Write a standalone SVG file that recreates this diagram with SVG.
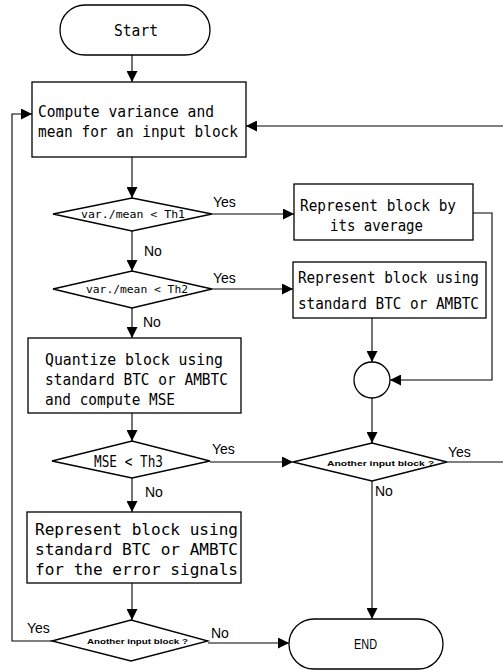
<svg xmlns="http://www.w3.org/2000/svg" width="503" height="670" viewBox="0 0 503 670">
<style>
.s{fill:#fff;stroke:#000;stroke-width:1.3}
.c{fill:none;stroke:#000;stroke-width:1.1}
.t{font-family:"DejaVu Sans Mono",monospace;font-size:16px;fill:#000}
.d{font-family:"DejaVu Sans Mono",monospace;font-size:11px;fill:#000}
.l{font-family:"Liberation Sans",Arial,sans-serif;font-size:14px;fill:#000}
.b{font-family:"Liberation Sans",Arial,sans-serif;font-size:8px;font-weight:bold;fill:#000}
</style>
<defs>
<marker id="a" markerUnits="userSpaceOnUse" markerWidth="11" markerHeight="11" refX="11" refY="5.5" orient="auto">
<path d="M0,0 L11,5.5 L0,11 z" fill="#000"/>
</marker>
</defs>
<rect width="503" height="670" fill="#fff"/>
<g id="connectors">
<line class="c" x1="132" y1="55" x2="132" y2="82" marker-end="url(#a)"/>
<line class="c" x1="132" y1="157" x2="132" y2="198" marker-end="url(#a)"/>
<line class="c" x1="212" y1="214" x2="294" y2="214" marker-end="url(#a)"/>
<line class="c" x1="132" y1="231" x2="132" y2="271" marker-end="url(#a)"/>
<line class="c" x1="212" y1="289" x2="293" y2="289" marker-end="url(#a)"/>
<line class="c" x1="132" y1="308" x2="132" y2="338" marker-end="url(#a)"/>
<line class="c" x1="132" y1="413" x2="132" y2="441" marker-end="url(#a)"/>
<line class="c" x1="210" y1="462" x2="293" y2="462" marker-end="url(#a)"/>
<line class="c" x1="132" y1="478" x2="132" y2="512" marker-end="url(#a)"/>
<line class="c" x1="132" y1="583" x2="132" y2="620" marker-end="url(#a)"/>
<polyline class="c" points="52,641 12,641 12,114 32,114" marker-end="url(#a)"/>
<line class="c" x1="208" y1="643" x2="289" y2="643" marker-end="url(#a)"/>
<line class="c" x1="372" y1="318" x2="372" y2="362" marker-end="url(#a)"/>
<polyline class="c" points="473,213 492,213 492,380 390,380" marker-end="url(#a)"/>
<line class="c" x1="372" y1="398" x2="372" y2="443" marker-end="url(#a)"/>
<line class="c" x1="372" y1="481" x2="372" y2="619" marker-end="url(#a)"/>
<line class="c" x1="447" y1="462" x2="503" y2="462"/>
<line class="c" x1="503" y1="126" x2="246" y2="126" marker-end="url(#a)"/>
<text class="l" x="213" y="207">Yes</text>
<text class="l" x="144" y="256">No</text>
<text class="l" x="213" y="283">Yes</text>
<text class="l" x="143" y="327">No</text>
<text class="l" x="212" y="454">Yes</text>
<text class="l" x="145" y="497">No</text>
<text class="l" x="27" y="633">Yes</text>
<text class="l" x="211" y="638">No</text>
<text class="l" x="448" y="457">Yes</text>
<text class="l" x="375" y="496">No</text>
</g>
<g id="start">
<rect class="s" x="60" y="5" width="150" height="50" rx="25"/>
<text class="t" x="114" y="36" font-size="15" textLength="44" lengthAdjust="spacingAndGlyphs">Start</text>
</g>
<g id="compute">
<rect class="s" x="32" y="82" width="214" height="75"/>
<text class="t" x="38" y="117" textLength="176" lengthAdjust="spacingAndGlyphs">Compute variance and</text>
<text class="t" x="38" y="137" textLength="200" lengthAdjust="spacingAndGlyphs">mean for an input block</text>
</g>
<g id="dec1">
<polygon class="s" points="53,214 132,198 212,214 132,231"/>
<text class="d" x="81" y="218" textLength="104" lengthAdjust="spacingAndGlyphs">var./mean &lt; Th1</text>
</g>
<g id="avg">
<rect class="s" x="294" y="184" width="179" height="56"/>
<text class="t" x="300" y="211" textLength="156" lengthAdjust="spacingAndGlyphs">Represent block by</text>
<text class="t" x="330" y="231" textLength="93" lengthAdjust="spacingAndGlyphs">its average</text>
</g>
<g id="dec2">
<polygon class="s" points="53,289 132,271 212,289 132,308"/>
<text class="d" x="86" y="293" textLength="102" lengthAdjust="spacingAndGlyphs">var./mean &lt; Th2</text>
</g>
<g id="btc">
<rect class="s" x="293" y="262" width="193" height="56"/>
<text class="t" x="298" y="283" textLength="181" lengthAdjust="spacingAndGlyphs">Represent block using</text>
<text class="t" x="298" y="309" textLength="181" lengthAdjust="spacingAndGlyphs">standard BTC or AMBTC</text>
</g>
<g id="quantize">
<rect class="s" x="28" y="338" width="213" height="75"/>
<text class="t" x="45" y="365" textLength="178" lengthAdjust="spacingAndGlyphs">Quantize block using</text>
<text class="t" x="45" y="385" textLength="183" lengthAdjust="spacingAndGlyphs">standard BTC or AMBTC</text>
<text class="t" x="45" y="405" textLength="130" lengthAdjust="spacingAndGlyphs">and compute MSE</text>
</g>
<g id="mse">
<polygon class="s" points="52,461 132,441 210,461 132,478"/>
<text class="t" x="94" y="467" font-size="14" textLength="69" lengthAdjust="spacingAndGlyphs">MSE &lt; Th3</text>
</g>
<g id="error">
<rect class="s" x="27" y="512" width="214" height="71"/>
<text class="t" x="35" y="535" textLength="203" lengthAdjust="spacingAndGlyphs">Represent block using</text>
<text class="t" x="35" y="555" textLength="203" lengthAdjust="spacingAndGlyphs">standard BTC or AMBTC</text>
<text class="t" x="35" y="575" textLength="203" lengthAdjust="spacingAndGlyphs">for the error signals</text>
</g>
<g id="join">
<circle class="s" cx="372" cy="380" r="18"/>
</g>
<g id="another1">
<polygon class="s" points="293,462 372,443 447,462 372,481"/>
<text class="b" x="327" y="466" textLength="107" lengthAdjust="spacingAndGlyphs">Another input block ?</text>
</g>
<g id="another2">
<polygon class="s" points="52,641 131,620 208,641 131,661"/>
<text class="b" x="87" y="644" textLength="101" lengthAdjust="spacingAndGlyphs">Another input block ?</text>
</g>
<g id="end">
<rect class="s" x="289" y="619" width="154" height="50" rx="25"/>
<text class="l" x="354" y="649" textLength="23" lengthAdjust="spacingAndGlyphs">END</text>
</g>
</svg>
